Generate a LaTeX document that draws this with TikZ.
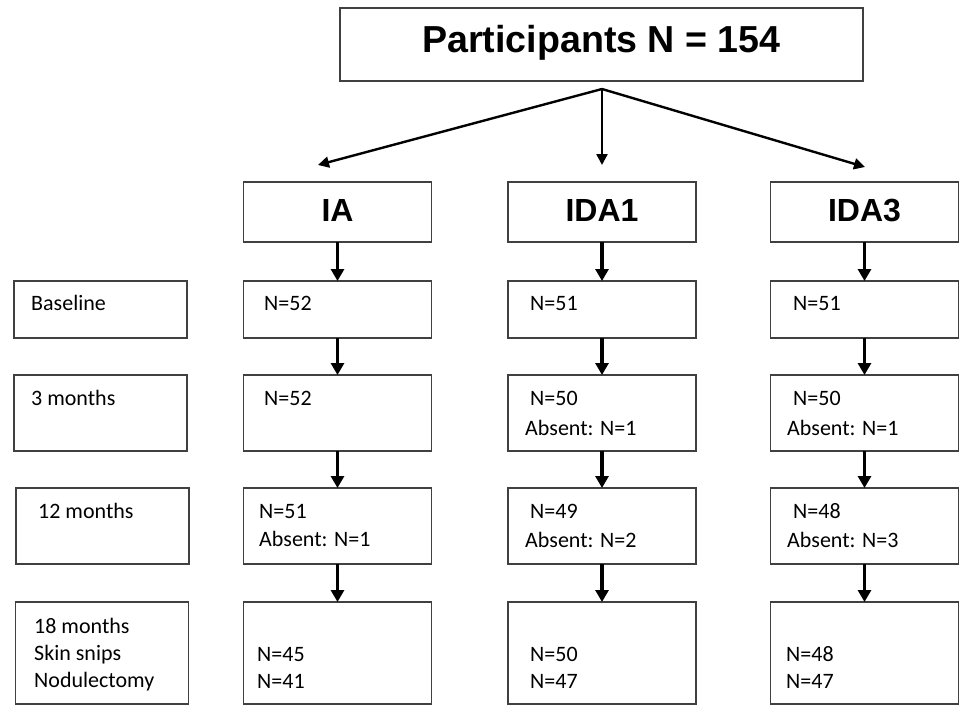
\documentclass[tikz,border=0pt]{standalone}
\usepackage{fontspec}
\setmainfont{Carlito}
\newfontfamily\headfont{Liberation Sans}
\usetikzlibrary{arrows.meta}

\begin{document}
\begin{tikzpicture}[x=1pt,y=-1pt]
	\tikzstyle{box}=[draw=black!75, line width=1.2pt, inner sep=0pt, outer sep=0pt, minimum width=188pt]
	\tikzstyle{txt}=[anchor=base west, inner sep=0pt, font=\fontsize{22}{26}\selectfont]
	\tikzstyle{head}=[anchor=base, inner sep=0pt, font=\headfont\bfseries\fontsize{32}{36}\selectfont]
	\tikzstyle{down}=[line width=3.5pt, -{Triangle[width=13pt,length=12pt]}]
	\tikzstyle{split}=[line width=2.4pt, -{Triangle[width=11pt,length=11pt]}]
	\useasboundingbox (0,0) rectangle (961,707);
	% top box and the three groups
	\node [box, minimum width=523pt, minimum height=73pt] (all) at (601.5,44.5) {};
	\node [head, font=\headfont\bfseries\fontsize{37.6}{42}\selectfont] (alltxt) at (601.5,52) {Participants N = 154};
	\coordinate (fork) at (602,89);
	\coordinate (toia) at (318,165);
	\coordinate (toida1) at (602,165);
	\coordinate (toida3) at (865,167);
	\draw [split] (fork) -- (toia);
	\draw [split] (fork) -- (toida1);
	\draw [split] (fork) -- (toida3);
	\node [box, minimum height=60pt] (ia) at (337.5,212) {};
	\node [box, minimum height=60pt] (ida1) at (602,212) {};
	\node [box, minimum height=60pt] (ida3) at (864.5,212) {};
	\node [head] (iatxt) at (337.5,221) {IA};
	\node [head] (ida1txt) at (602,221) {IDA1};
	\node [head] (ida3txt) at (864.5,221) {IDA3};
	% row labels
	\node [box, minimum width=173pt, minimum height=57pt] (lbase) at (100.5,309.5) {};
	\node [box, minimum width=173pt, minimum height=76pt] (l3) at (100.5,413) {};
	\node [box, minimum width=173pt, minimum height=76pt] (l12) at (102.5,526) {};
	\node [box, minimum width=173pt, minimum height=102pt] (l18) at (102,653) {};
	\node [txt] (lbasetxt) at (31,310) {Baseline};
	\node [txt] (l3txt) at (31,405) {3 months};
	\node [txt] (l12txt) at (38,518) {12 months};
	\node [txt] (l18txt) at (34,633) {18 months};
	\node [txt] (lsniptxt) at (34,660) {Skin snips};
	\node [txt] (lnodtxt) at (34,687) {Nodulectomy};
	% IA
	\node [box, minimum height=57pt] (iabase) at (337.5,309.5) {};
	\node [box, minimum height=76pt] (ia3) at (337.5,413) {};
	\node [box, minimum height=76pt] (ia12) at (337.5,526) {};
	\node [box, minimum height=102pt] (ia18) at (337.5,653) {};
	\node [txt] (iabasetxt) at (264,310) {N=52};
	\node [txt] (ia3txt) at (264,405) {N=52};
	\node [txt] (ia12txt) at (259,518) {N=51};
	\node [txt] (ia12abs) at (259,546) {Absent: N=1};
	\node [txt] (ia18snip) at (257,661) {N=45};
	\node [txt] (ia18nod) at (257,688) {N=41};
	% IDA1
	\node [box, minimum height=57pt] (ida1base) at (602,309.5) {};
	\node [box, minimum height=76pt] (ida13) at (602,413) {};
	\node [box, minimum height=76pt] (ida112) at (602,526) {};
	\node [box, minimum height=102pt] (ida118) at (602,653) {};
	\node [txt] (ida1basetxt) at (530,310) {N=51};
	\node [txt] (ida13txt) at (530,405) {N=50};
	\node [txt] (ida13abs) at (525,435) {Absent: N=1};
	\node [txt] (ida112txt) at (530,518) {N=49};
	\node [txt] (ida112abs) at (525,547) {Absent: N=2};
	\node [txt] (ida118snip) at (530,661) {N=50};
	\node [txt] (ida118nod) at (530,688) {N=47};
	% IDA3
	\node [box, minimum height=57pt] (ida3base) at (864.5,309.5) {};
	\node [box, minimum height=76pt] (ida33) at (864.5,413) {};
	\node [box, minimum height=76pt] (ida312) at (864.5,526) {};
	\node [box, minimum height=102pt] (ida318) at (864.5,653) {};
	\node [txt] (ida3basetxt) at (793,310) {N=51};
	\node [txt] (ida33txt) at (793,405) {N=50};
	\node [txt] (ida33abs) at (787,435) {Absent: N=1};
	\node [txt] (ida312txt) at (793,518) {N=48};
	\node [txt] (ida312abs) at (787,547) {Absent: N=3};
	\node [txt] (ida318snip) at (786,661) {N=48};
	\node [txt] (ida318nod) at (786,688) {N=47};
	% down arrows
	\draw [down] (ia) -- (iabase);
	\draw [down] (iabase) -- (ia3);
	\draw [down] (ia3) -- (ia12);
	\draw [down] (ia12) -- (ia18);
	\draw [down] (ida1) -- (ida1base);
	\draw [down] (ida1base) -- (ida13);
	\draw [down] (ida13) -- (ida112);
	\draw [down] (ida112) -- (ida118);
	\draw [down] (ida3) -- (ida3base);
	\draw [down] (ida3base) -- (ida33);
	\draw [down] (ida33) -- (ida312);
	\draw [down] (ida312) -- (ida318);
\end{tikzpicture}
\end{document}
